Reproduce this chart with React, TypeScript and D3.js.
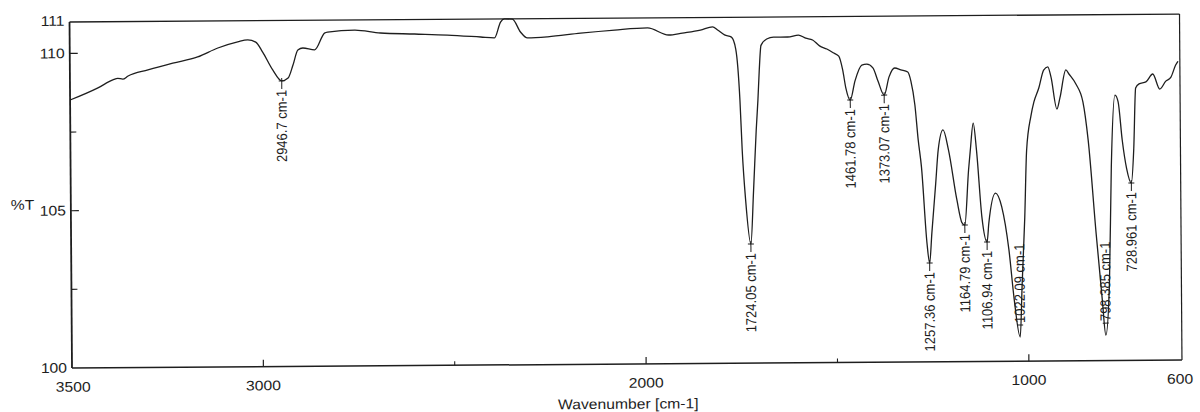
import React from 'react';
import * as d3 from 'd3';

// IR spectrum
const wavenumbers = [
  3500, 3427, 3388, 3375, 3362, 3348, 3296, 3231, 3166, 3113, 3061, 3035, 3014, 2996, 2970,
  2946.7, 2930, 2917, 2904, 2891, 2860, 2834, 2826, 2755, 2688, 2599, 2513, 2426, 2390, 2374,
  2364, 2343, 2322, 2304, 2251, 2165, 2076, 1990, 1935, 1899, 1852, 1820, 1807, 1789, 1771,
  1760, 1750, 1745, 1737, 1724.05, 1716, 1708, 1703, 1699, 1694, 1679, 1661, 1624, 1596, 1577,
  1559, 1541, 1522, 1504, 1491, 1481, 1473, 1461.78, 1449, 1431, 1418, 1402, 1389, 1373.07, 1360,
  1345, 1329, 1311, 1303, 1293, 1285, 1277, 1264, 1257.36, 1251, 1240, 1233, 1220, 1206, 1185,
  1172, 1164.79, 1154, 1149, 1141, 1133, 1120, 1106.94, 1102, 1084, 1068, 1050, 1037, 1022.09, 1016,
  1008, 1002, 990, 982, 969, 956, 945, 937, 922, 914, 898, 890, 872, 854, 841,
  822, 807, 798.385, 788, 781, 770, 762, 752, 741, 728.961, 722, 716, 707, 689, 671,
  653, 637, 624, 611, 605,
];
const transmittance = [
  108.52, 108.9, 109.15, 109.2, 109.17, 109.27, 109.46, 109.67, 109.86, 110.14, 110.33, 110.39, 110.32, 110.0, 109.43,
  109.08, 109.17, 109.58, 110.06, 110.12, 110.06, 110.59, 110.62, 110.68, 110.58, 110.54, 110.5, 110.43, 110.4, 110.9,
  111.0, 110.99, 110.58, 110.39, 110.42, 110.53, 110.62, 110.68, 110.45, 110.51, 110.6, 110.7, 110.6, 110.44, 110.37,
  109.99, 108.37, 106.78, 105.19, 103.79, 105.5, 107.41, 108.36, 109.3, 110.1, 110.3, 110.36, 110.36, 110.42, 110.32,
  110.26, 110.07, 109.97, 109.84, 109.74, 109.3, 108.72, 108.34, 108.95, 109.45, 109.48, 109.36, 108.94, 108.49, 109.07,
  109.35, 109.29, 109.22, 108.93, 108.17, 107.06, 106.2, 103.78, 103.14, 104.1, 105.68, 106.73, 107.37, 106.73, 105.14,
  104.41, 104.34, 106.09, 106.73, 107.58, 106.73, 104.59, 103.8, 104.4, 105.35, 104.91, 103.54, 101.95, 100.77, 102.48,
  104.58, 106.7, 107.8, 108.24, 108.68, 109.25, 109.35, 109.03, 108.01, 108.36, 109.25, 109.12, 108.8, 108.23, 107.02,
  104.06, 101.93, 100.81, 102.47, 106.15, 108.44, 108.22, 107.01, 106.1, 105.64, 106.73, 108.66, 108.79, 108.85, 109.1,
  108.62, 108.87, 108.99, 109.38, 109.5,
];

const peakPositions = [2946.7, 1724.05, 1461.78, 1373.07, 1257.36, 1164.79, 1106.94, 1022.09, 798.385, 728.961];
const peakLabels = [
  '2946.7 cm-1', '1724.05 cm-1', '1461.78 cm-1', '1373.07 cm-1', '1257.36 cm-1',
  '1164.79 cm-1', '1106.94 cm-1', '1022.09 cm-1', '798.385 cm-1', '728.961 cm-1',
];

const yTicks = [100, 105, 110];
const yTopLabel = 111;
const yMinorTicks = [102.5, 107.5];
const xTicks = [3000, 2000, 1000];
const xCornerLabels = [3500, 600];
const xMinorTicks = [2500, 1500];

const FONT = '"Liberation Sans", Arial, sans-serif';
const INK = '#1e1e1e';

export default function App() {
  const width = 1200;
  const height = 412;
  const left = 72, right = 1182, top = 22, bottom = 368;

  const x = d3.scaleLinear().domain([3500, 600]).range([left, right]);
  const y = d3.scaleLinear().domain([100, 111]).range([bottom, top]);

  const points: [number, number][] = wavenumbers.map((w, i) => [w, transmittance[i]]);
  const line = d3.line<[number, number]>()
    .x(d => x(d[0]))
    .y(d => y(d[1]))
    .curve(d3.curveMonotoneX);

  // scanned page is slightly stretched sideways
  const tf = (px: number, py: number, rot = false) =>
    `translate(${px},${py}) scale(1.12,1)${rot ? ' rotate(-90)' : ''}`;

  const peakT = (w: number) => transmittance[wavenumbers.indexOf(w)];

  return (
    <svg width={width} height={height} style={{ position: 'absolute', left: 0, top: 0, background: '#fff' }}>
      <g transform={`rotate(-0.41, ${left}, ${bottom})`} fontFamily={FONT} fill={INK}>
        {/* frame */}
        <line x1={left} x2={right} y1={top} y2={top} stroke={INK} strokeWidth={1.3} />
        <line x1={right} x2={right} y1={top} y2={bottom} stroke={INK} strokeWidth={1.2} />
        <line x1={left} x2={left} y1={top} y2={bottom} stroke={INK} strokeWidth={1.8} />
        <line x1={left} x2={right} y1={bottom} y2={bottom} stroke={INK} strokeWidth={1.5} />

        {/* y ticks */}
        {yTicks.map(t => (
          <g key={t}>
            {t !== 100 && <line x1={left} x2={left + 8} y1={y(t)} y2={y(t)} stroke={INK} strokeWidth={1.2} />}
            <text transform={tf(left - 5, y(t))} textAnchor="end" dominantBaseline="central" fontSize={14}>{t}</text>
          </g>
        ))}
        <text transform={tf(left - 5, y(yTopLabel) - 1)} textAnchor="end" dominantBaseline="central" fontSize={14}>{yTopLabel}</text>
        {yMinorTicks.map(t => (
          <line key={t} x1={left} x2={left + 6} y1={y(t)} y2={y(t)} stroke={INK} strokeWidth={1.1} />
        ))}
        <text transform={tf(12, y(105) - 6)} dominantBaseline="central" fontSize={14}>%T</text>

        {/* x ticks */}
        {xTicks.map(t => (
          <g key={t}>
            <line x1={x(t)} x2={x(t)} y1={bottom} y2={bottom - 7} stroke={INK} strokeWidth={1.2} />
            <text transform={tf(x(t), bottom + 19)} textAnchor="middle" dominantBaseline="central" fontSize={14}>{t}</text>
          </g>
        ))}
        {xCornerLabels.map(t => (
          <text key={t} transform={tf(x(t) + (t === 600 ? -2 : 1), bottom + 19)} textAnchor="middle" dominantBaseline="central" fontSize={14}>{t}</text>
        ))}
        {xMinorTicks.map(t => (
          <line key={t} x1={x(t)} x2={x(t)} y1={bottom} y2={bottom - 4} stroke={INK} strokeWidth={1.1} />
        ))}
        <text transform={tf(628, bottom + 40)} textAnchor="middle" dominantBaseline="central" fontSize={14}>Wavenumber [cm-1]</text>

        {/* spectrum */}
        <path d={line(points) ?? ''} fill="none" stroke={INK} strokeWidth={1.3} strokeLinejoin="round" />

        {/* peak picks: deep bands get their label above the minimum */}
        {peakPositions.map((w, i) => {
          const px = x(w);
          const py = y(peakT(w));
          const above = peakT(w) < 101.5;
          return (
            <g key={w}>
              <line x1={px - 3} x2={px + 3} y1={above ? py - 12 : py} y2={above ? py - 12 : py} stroke={INK} strokeWidth={1} />
              {!above && <line x1={px} x2={px} y1={py - 3} y2={py + 8} stroke={INK} strokeWidth={1} />}
              <text
                transform={tf(px, above ? py - 14 : py + 9, true)}
                textAnchor={above ? 'start' : 'end'}
                dominantBaseline="central"
                fontSize={13}
              >
                {peakLabels[i]}
              </text>
            </g>
          );
        })}
      </g>
    </svg>
  );
}
